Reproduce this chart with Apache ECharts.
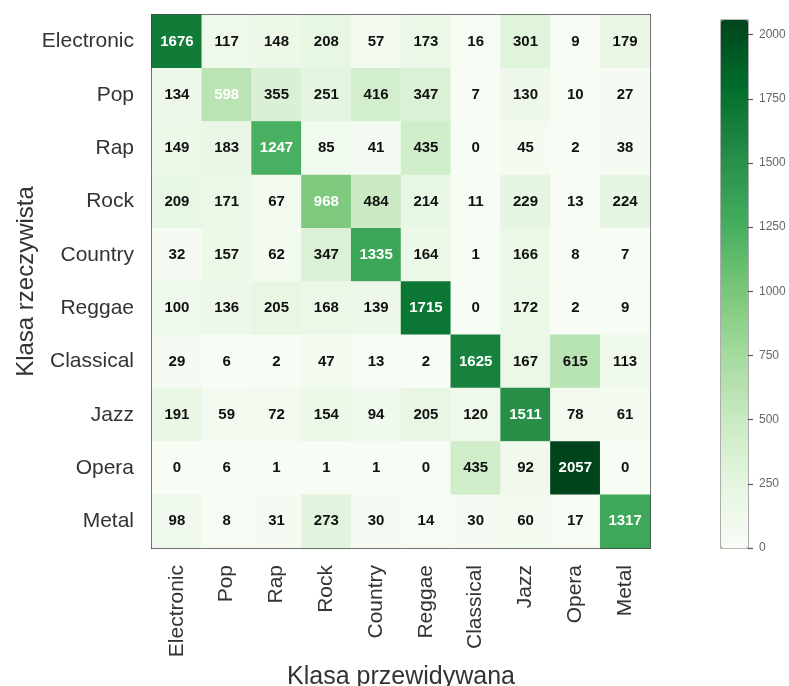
<!DOCTYPE html>
<html>
<head>
<meta charset="utf-8">
<script src="https://cdn.jsdelivr.net/npm/echarts@6/dist/echarts.min.js"></script>
<style>
  html, body { margin: 0; padding: 0; background: #ffffff; }
  #chart { width: 789px; height: 686px; }
</style>
</head>
<body>
<div id="chart"></div>
<script>
// Genre labels (rows = actual class, columns = predicted class)
const genres = ['Electronic', 'Pop', 'Rap', 'Rock', 'Country', 'Reggae', 'Classical', 'Jazz', 'Opera', 'Metal'];

// Confusion matrix rows
const rowElectronic = [1676, 117, 148, 208, 57, 173, 16, 301, 9, 179];
const rowPop        = [134, 598, 355, 251, 416, 347, 7, 130, 10, 27];
const rowRap        = [149, 183, 1247, 85, 41, 435, 0, 45, 2, 38];
const rowRock       = [209, 171, 67, 968, 484, 214, 11, 229, 13, 224];
const rowCountry    = [32, 157, 62, 347, 1335, 164, 1, 166, 8, 7];
const rowReggae     = [100, 136, 205, 168, 139, 1715, 0, 172, 2, 9];
const rowClassical  = [29, 6, 2, 47, 13, 2, 1625, 167, 615, 113];
const rowJazz       = [191, 59, 72, 154, 94, 205, 120, 1511, 78, 61];
const rowOpera      = [0, 6, 1, 1, 1, 0, 435, 92, 2057, 0];
const rowMetal      = [98, 8, 31, 273, 30, 14, 30, 60, 17, 1317];

const rows = [rowElectronic, rowPop, rowRap, rowRock, rowCountry,
              rowReggae, rowClassical, rowJazz, rowOpera, rowMetal];

// Colour bar scale
const colorMin = 0;
const colorMax = 2057;
const colorbarStep = 250;

const greens = ['#f7fcf5', '#e5f5e0', '#c7e9c0', '#a1d99b', '#74c476',
                '#41ab5d', '#238b45', '#006d2c', '#00441b'];

const sans = "'Liberation Sans', Arial, 'DejaVu Sans', sans-serif";

// Cells: diagonal (correct predictions) annotated in white
const cells = [];
rows.forEach(function (row, r) {
  row.forEach(function (v, c) {
    const item = { value: [c, r, v] };
    if (r === c) item.label = { color: '#ffffff' };
    cells.push(item);
  });
});

const chart = echarts.init(document.getElementById('chart'), null, { renderer: 'canvas' });

chart.setOption({
  backgroundColor: '#ffffff',
  animation: false,
  grid: [
    { left: 152, top: 15, width: 498, height: 533, show: true, outerBoundsMode: 'none', containLabel: false,
      borderColor: '#444444', borderWidth: 2, backgroundColor: 'transparent' },
    { left: 721, top: 20, width: 27, height: 528, show: true, outerBoundsMode: 'none', containLabel: false,
      borderColor: '#777777', borderWidth: 1.2, backgroundColor: 'transparent' }
  ],
  xAxis: [
    {
      type: 'category', gridIndex: 0, data: genres, position: 'bottom',
      axisLine: { show: false }, axisTick: { show: false }, splitLine: { show: false },
      axisLabel: { rotate: 90, fontSize: 21, color: '#333333', fontFamily: sans, margin: 17, interval: 0 },
      name: 'Klasa przewidywana', nameLocation: 'middle', nameGap: 108,
      nameTextStyle: { fontSize: 25, color: '#333333', fontFamily: sans }
    },
    { type: 'value', gridIndex: 1, show: false, min: 0, max: 1 }
  ],
  yAxis: [
    {
      type: 'category', gridIndex: 0, data: genres, inverse: true,
      axisLine: { show: false }, axisTick: { show: false }, splitLine: { show: false },
      axisLabel: { fontSize: 21, color: '#333333', fontFamily: sans, margin: 18, interval: 0 },
      name: 'Klasa rzeczywista', nameLocation: 'middle', nameGap: 114, nameRotate: 90,
      nameMoveOverlap: false,
      nameTextStyle: { fontSize: 24, color: '#333333', fontFamily: sans }
    },
    {
      type: 'value', gridIndex: 1, position: 'right', min: colorMin, max: colorMax, interval: colorbarStep,
      axisLine: { show: false, onZero: false },
      splitLine: { show: false },
      axisTick: { show: true, length: 5, inside: false, lineStyle: { color: '#555555', width: 1.2 } },
      axisLabel: {
        fontSize: 12, color: '#666666', fontFamily: sans, margin: 11,
        showMaxLabel: false,
        formatter: function (v) { return String(v); }
      }
    }
  ],
  visualMap: {
    type: 'continuous', seriesIndex: 0, min: colorMin, max: colorMax,
    calculable: false, orient: 'vertical', left: 721, top: 20, padding: 0,
    itemWidth: 27, itemHeight: 528, text: null, showLabel: false,
    inRange: { color: greens }
  },
  series: [{
    type: 'heatmap', xAxisIndex: 0, yAxisIndex: 0, data: cells,
    itemStyle: { borderWidth: 0 },
    emphasis: { disabled: true },
    label: {
      show: true, fontSize: 15, fontWeight: 'bold', fontFamily: sans, color: '#111111',
      formatter: function (p) { return String(p.value[2]); }
    }
  }]
});
</script>
</body>
</html>
